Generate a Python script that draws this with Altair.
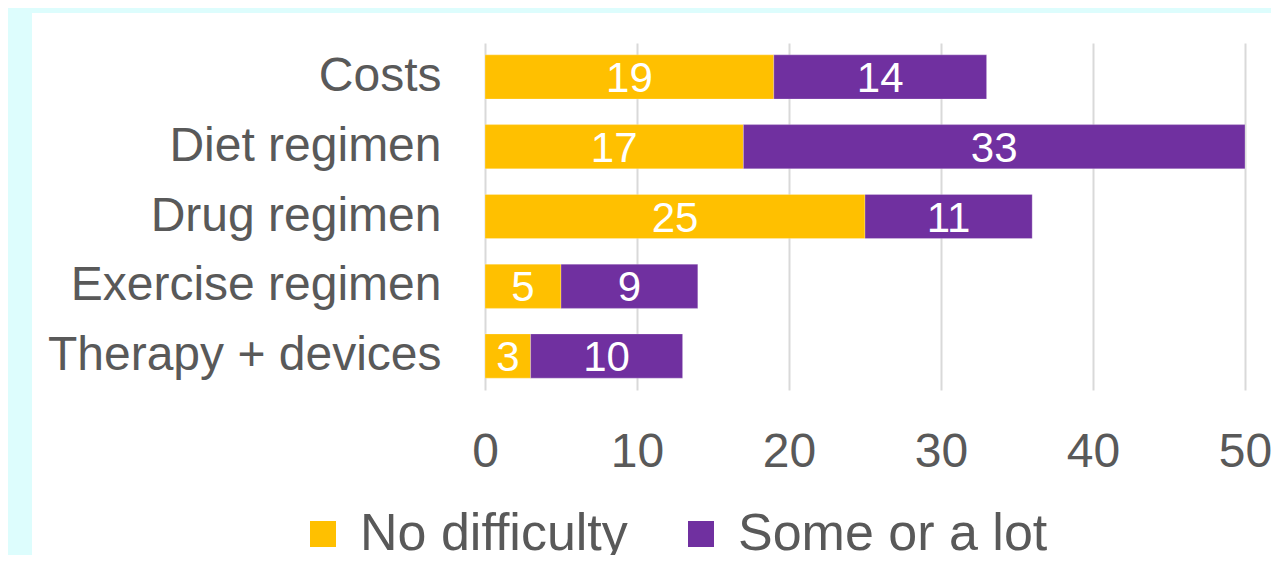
import altair as alt
import pandas as pd

categories = ["Costs", "Diet regimen", "Drug regimen", "Exercise regimen", "Therapy + devices"]
no_difficulty = [19, 17, 25, 5, 3]
some_or_lot = [14, 33, 11, 9, 10]
series = ["No difficulty", "Some or a lot"]
colors = ["#FFC000", "#7030A0"]

rows = []
for c, a, b in zip(categories, no_difficulty, some_or_lot):
    rows.append({"category": c, "series": series[0], "value": a, "ord": 0})
    rows.append({"category": c, "series": series[1], "value": b, "ord": 1})
df = pd.DataFrame(rows)

FONT = "Liberation Sans"
GREY = "#595959"
CYAN = "#ddfdfd"

y_enc = alt.Y(
    "category:N",
    sort=categories,
    scale=alt.Scale(paddingInner=0.366, paddingOuter=0.17),
    axis=alt.Axis(
        title=None, ticks=False, tickSize=0, domain=False, labelPadding=44,
        labelFontSize=48, labelFont=FONT, labelColor=GREY, labelLimit=500,
        labelExpr="datum.label == 'Costs' ? 'Costs\u00a0' : datum.label",
    ),
)

x_scale = alt.Scale(domain=[0, 50], nice=False)
x_axis = alt.Axis(
    title=None, values=[0, 10, 20, 30, 40, 50], grid=True, gridColor="#d9d9d9",
    gridWidth=2, ticks=False, tickSize=0, domain=False, labelPadding=38,
    labelFlush=False, labelOverlap=False, labelBound=False,
    labelFontSize=48, labelFont=FONT, labelColor=GREY,
)

bars = alt.Chart(df).mark_bar(stroke="#ffffff", strokeOpacity=0.25, strokeWidth=1).encode(
    x=alt.X("value:Q", stack="zero", scale=x_scale, axis=x_axis),
    y=y_enc,
    color=alt.Color(
        "series:N",
        scale=alt.Scale(domain=series, range=colors),
        legend=alt.Legend(
            title=None, orient="none", direction="horizontal", legendX=-188, legendY=465,
            symbolType="square", symbolSize=676, symbolStrokeWidth=0,
            labelFontSize=52, labelFont=FONT, labelColor=GREY, labelOffset=11,
            columnPadding=47, labelLimit=600,
        ),
    ),
    order=alt.Order("ord:Q"),
)

labels = alt.Chart(df).transform_stack(
    stack="value", groupby=["category"], as_=["v0", "v1"],
    sort=[alt.SortField("ord", order="ascending")],
).transform_calculate(
    mid="(datum.v0 + datum.v1) / 2"
).mark_text(color="white", fontSize=42, font=FONT, baseline="middle", dy=2).encode(
    x=alt.X("mid:Q", scale=x_scale),
    y=alt.Y("category:N", sort=categories),
    text=alt.Text("value:Q"),
)

strip_data = alt.Data(values=[{"k": 1}])
left_strip = alt.Chart(strip_data).mark_rect(color=CYAN).encode(
    x=alt.value(-480), x2=alt.value(-453), y=alt.value(-40), y2=alt.value(520)
)
top_strip = alt.Chart(strip_data).mark_rect(color=CYAN).encode(
    x=alt.value(-480), x2=alt.value(800), y=alt.value(-40), y2=alt.value(-30)
)

chart = alt.layer(left_strip, top_strip, bars, labels).properties(
    width=760, height=347,
    autosize=alt.AutoSizeParams(type="none"),
    padding={"left": 477, "top": 35, "right": 26, "bottom": 165},
    background="white",
).configure_view(strokeWidth=0)

chart.save("out.html", embed_options={"renderer": "svg", "actions": False})
